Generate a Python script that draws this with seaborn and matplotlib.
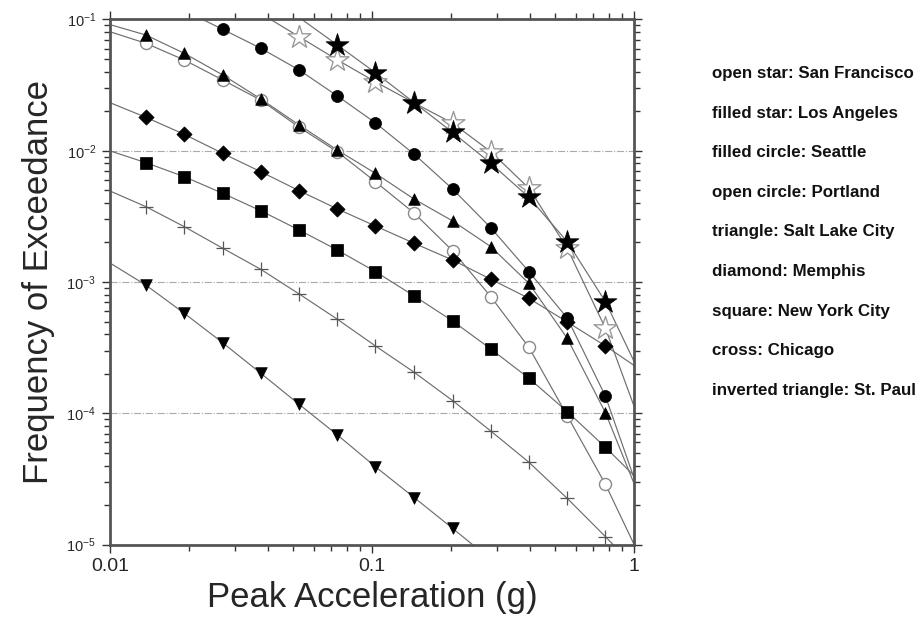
import numpy as np
import pandas as pd
import matplotlib
matplotlib.use("Agg")
import matplotlib.pyplot as plt
import seaborn as sns
from matplotlib.ticker import LogLocator, NullFormatter

# ---------------- data ----------------
pga = [0.0098, 0.0137, 0.0192, 0.0269, 0.0376, 0.0527, 0.0738, 0.103,
       0.145, 0.203, 0.284, 0.397, 0.556, 0.778, 1.09]

nan = np.nan
san_francisco = [nan, nan, nan, nan, 0.111, 0.0738, 0.0491, 0.0335, 0.0231,
                 0.0162, 0.00983, 0.00518, 0.00181, 0.000444, 7.1e-5]
los_angeles = [nan, nan, nan, nan, 0.17, 0.1034, 0.0638, 0.0393, 0.0232,
               0.0138, 0.00802, 0.00442, 0.00203, 0.000708, 1.74e-4]
seattle = [nan, nan, 0.117, 0.0841, 0.0603, 0.0412, 0.0261, 0.0163, 0.00939,
           0.00511, 0.00259, 0.00120, 0.000532, 0.000135, 1.97e-5]
portland = [0.0816, 0.0658, 0.0491, 0.0346, 0.0243, 0.0151, 0.0098, 0.00581,
            0.00334, 0.00173, 0.000773, 0.000318, 9.6e-5, 2.88e-5, 7.0e-6]
salt_lake_city = [0.0923, 0.0761, 0.0552, 0.0378, 0.0248, 0.0157, 0.0101,
                  0.00673, 0.00427, 0.00292, 0.00186, 0.000977, 0.000373,
                  0.000101, 1.91e-5]
memphis = [0.0236, 0.01796, 0.01333, 0.00955, 0.00692, 0.00496, 0.00360,
           0.00267, 0.00197, 0.00147, 0.00105, 0.000751, 0.000496, 0.000326,
           2.06e-4]
new_york_city = [0.0101, 0.00811, 0.00634, 0.00474, 0.00349, 0.00249, 0.00175,
                 0.00120, 0.000782, 0.000505, 0.000309, 0.000185, 0.000103,
                 5.51e-5, 2.83e-5]
chicago = [0.00502, 0.00375, 0.00264, 0.00181, 0.00125, 0.000811, 0.000520,
           0.000326, 0.000205, 0.000125, 7.33e-5, 4.24e-5, 2.25e-5, 1.15e-5,
           5.7e-6]
st_paul = [0.00143, 0.000948, 0.000578, 0.000345, 0.000202, 0.000117, 6.84e-5,
           3.92e-5, 2.28e-5, 1.33e-5, 7.7e-6, nan, nan, nan, nan]

legend_lines = ["open star: San Francisco", "filled star: Los Angeles",
                "filled circle: Seattle", "open circle: Portland",
                "triangle: Salt Lake City", "diamond: Memphis",
                "square: New York City", "cross: Chicago",
                "inverted triangle: St. Paul"]

xtick_values = [0.01, 0.1, 1]
xtick_labels = ["0.01", "0.1", "1"]

# ---------------- style ----------------
sns.set_theme(style="ticks")
plt.rcParams["font.family"] = ["Liberation Sans", "DejaVu Sans"]
plt.rcParams["mathtext.default"] = "regular"
plt.rcParams["axes.unicode_minus"] = False

fig = plt.figure(figsize=(9.23, 6.18), dpi=100)
ax = fig.add_axes([110 / 923, 1 - 544.6 / 618, 524 / 923, 525.2 / 618])
ax.set_xscale("log")
ax.set_yscale("log")

# (series, marker, size, face, edge, linewidth)
series = [
    (san_francisco, "*", 300, "white", "#9a9a9a", 1.0),
    (los_angeles, "*", 300, "black", "black", 0.5),
    (portland, "o", 75, "white", "#8a8a8a", 1.0),
    (seattle, "o", 75, "black", "black", 0.5),
    (salt_lake_city, "^", 70, "black", "black", 0.5),
    (memphis, "D", 60, "black", "black", 0.5),
    (new_york_city, "s", 75, "black", "black", 0.5),
    (chicago, "+", 90, "#555555", "#555555", 0.9),
    (st_paul, "v", 70, "black", "black", 0.5),
]

line_color = "#6e6e6e"
for vals, mk, sz, fc, ec, lw in series:
    df = pd.DataFrame({"pga": pga, "freq": vals}).dropna()
    sns.lineplot(data=df, x="pga", y="freq", ax=ax, color=line_color,
                 linewidth=0.85, sort=False, estimator=None, zorder=2)
    inside = df[(df.pga >= 0.01) & (df.pga <= 1) &
                (df.freq >= 1e-5) & (df.freq <= 0.1)]
    if mk == "+":
        sns.scatterplot(data=inside, x="pga", y="freq", ax=ax, marker=mk,
                        s=sz, color=fc, linewidth=lw, zorder=3, legend=False)
    else:
        sns.scatterplot(data=inside, x="pga", y="freq", ax=ax, marker=mk,
                        s=sz, facecolor=fc, edgecolor=ec, linewidth=lw,
                        zorder=3, legend=False)

ax.set_xlim(0.01, 1)
ax.set_ylim(1e-5, 0.1)

ax.set_xticks(xtick_values, labels=xtick_labels)
ax.xaxis.set_minor_locator(LogLocator(base=10.0, subs=np.arange(2, 10) * 1.0, numticks=100))
ax.xaxis.set_minor_formatter(NullFormatter())
ax.yaxis.set_major_locator(LogLocator(base=10.0, numticks=100))
ax.yaxis.set_minor_locator(LogLocator(base=10.0, subs=np.arange(2, 10) * 1.0, numticks=100))
ax.yaxis.set_minor_formatter(NullFormatter())

ax.tick_params(which="both", direction="out", top=True, right=True,
               labeltop=False, labelright=False, color="#333333")
ax.tick_params(which="major", length=6, width=1.0)
ax.tick_params(which="minor", length=4, width=1.0)
ax.tick_params(axis="x", labelsize=14, pad=4)
ax.tick_params(axis="y", labelsize=10.5, pad=4)

for sp in ax.spines.values():
    sp.set_linewidth(2.0)
    sp.set_color("#555555")

ax.grid(axis="y", which="major", linestyle="-.", color="#aaaaaa", linewidth=0.8)
ax.grid(axis="x", visible=False)

ax.set_xlabel("Peak Acceleration (g)", fontsize=25, labelpad=4)
ax.set_ylabel("Frequency of Exceedance", fontsize=25, labelpad=8)

for i, txt in enumerate(legend_lines):
    fig.text(712 / 923, 1 - (73.5 + i * 39.6) / 618, txt, fontsize=12.2,
             fontweight="bold", va="center", ha="left", color="#111111")

fig.savefig("out.png", dpi=100)
